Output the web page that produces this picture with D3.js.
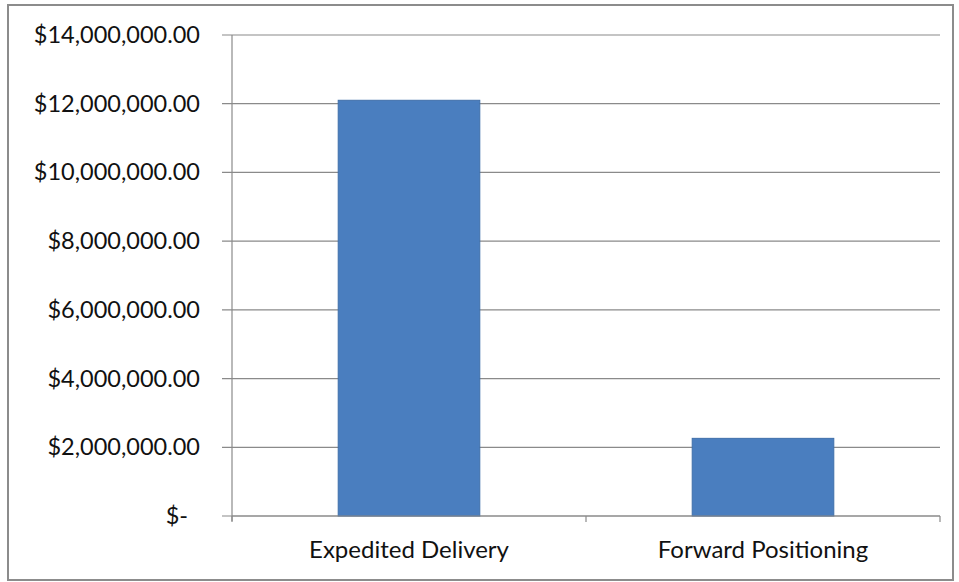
<!DOCTYPE html>
<html><head><meta charset="utf-8">
<script src="https://cdn.jsdelivr.net/npm/d3@7"></script>
<style>html,body{margin:0;padding:0;background:#fff;}svg{display:block;}</style>
</head><body>
<svg id="chart" width="959" height="582"></svg>
<script>
const categories = ["Expedited Delivery", "Forward Positioning"];
const values = [12100000, 2260000];
const yTicks = [0, 2000000, 4000000, 6000000, 8000000, 10000000, 12000000, 14000000];

const svg = d3.select("#chart");
const W = 959, H = 582;
const m = {left: 232, right: 19, top: 35, bottom: 66};
const font = "Lato, 'Open Sans', sans-serif";

svg.append("rect").attr("x", 8).attr("y", 5).attr("width", 945).attr("height", 575)
  .attr("fill", "#fff").attr("stroke", "#8c8c8c").attr("stroke-width", 2);

const x = d3.scaleBand().domain(categories).range([m.left, W - m.right]).paddingInner(0.6).paddingOuter(0.3);
const y = d3.scaleLinear().domain([0, 14000000]).range([H - m.bottom, m.top]);

const fmt = v => v === 0 ? "$-" : "$" + d3.format(",.2f")(v);

// gridlines
svg.append("g").selectAll("line").data(yTicks).join("line")
  .attr("x1", m.left - 10).attr("x2", W - m.right)
  .attr("y1", d => y(d)).attr("y2", d => y(d))
  .attr("stroke", "#8a8a8a").attr("stroke-width", 1.2);

// y axis labels
const yAxis = d3.axisLeft(y).tickValues(yTicks).tickFormat(fmt).tickSize(0).tickPadding(0);
const gy = svg.append("g").attr("transform", `translate(200,0)`).call(yAxis);
gy.select(".domain").remove();
gy.selectAll("text").attr("font-family", font).attr("font-size", 23.5).attr("fill", "#111")
  .attr("dx", d => d === 0 ? -12 : 0);

// y axis line
svg.append("line").attr("x1", m.left).attr("x2", m.left).attr("y1", y(14000000)).attr("y2", y(0) + 5)
  .attr("stroke", "#8a8a8a").attr("stroke-width", 1.2);

// bars
svg.append("g").selectAll("rect").data(categories).join("rect")
  .attr("x", d => x(d)).attr("width", x.bandwidth())
  .attr("y", (d, i) => y(values[i])).attr("height", (d, i) => y(0) - y(values[i]))
  .attr("fill", "#4a7ebf").attr("stroke", "#3f6faa").attr("stroke-width", 1);

// x axis
const xAxis = d3.axisBottom(x).tickSize(0).tickPadding(0);
const gx = svg.append("g").attr("transform", `translate(0,${y(0)})`).call(xAxis);
gx.select(".domain").remove();
gx.selectAll("text").attr("font-family", font).attr("font-size", 24).attr("fill", "#111")
  .attr("dy", null).attr("y", 42);
svg.append("line").attr("x1", m.left).attr("x2", W - m.right).attr("y1", y(0)).attr("y2", y(0))
  .attr("stroke", "#8a8a8a").attr("stroke-width", 1.2);
const step = x.step();
const bounds = [m.left, m.left + step, m.left + 2 * step];
svg.append("g").selectAll("line").data(bounds).join("line")
  .attr("x1", d => d).attr("x2", d => d).attr("y1", y(0)).attr("y2", y(0) + 6)
  .attr("stroke", "#8a8a8a").attr("stroke-width", 1.2);
</script>
</body></html>
